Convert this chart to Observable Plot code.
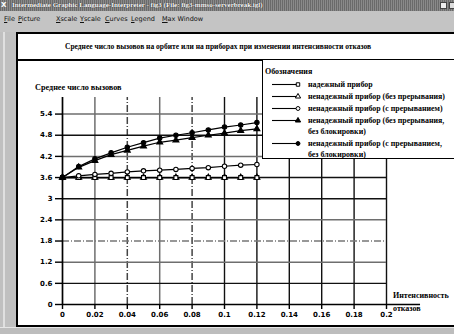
<!DOCTYPE html>
<html><head><meta charset="utf-8">
<script src="https://cdn.jsdelivr.net/npm/d3@7"></script>
<script src="https://cdn.jsdelivr.net/npm/@observablehq/plot@0.6"></script>
<style>
body{margin:0;width:454px;height:334px;overflow:hidden;background:#c0c0c0;position:relative;font-family:"Liberation Serif","DejaVu Serif",serif;}
.abs{position:absolute;white-space:nowrap;}
#tb{left:0;top:0;width:454px;height:11px;background:repeating-linear-gradient(90deg,#6a6a6a 0 1px,#8a8a8a 1px 2px);}
#tbtext{left:12px;top:0;font:bold 7px "Liberation Serif",serif;line-height:11px;color:#fff;text-shadow:0 0 1px #000;}
#tbx{left:1px;top:0;font:bold 7px "DejaVu Sans",sans-serif;line-height:11px;color:#fff;}
#tbbtn{left:440px;top:2px;width:5px;height:5px;background:#eee;border:1px solid #444;}
#tbbtn2{left:449px;top:2px;width:5px;height:5px;background:#ddd;border:1px solid #444;}
#menu{left:0;top:11px;width:454px;height:21px;background:#c4c4c4;}
.mi{top:15px;font:6.5px "DejaVu Sans",sans-serif;line-height:9px;color:#111;}
.mi u{text-decoration:underline;}
#lbev{left:3px;top:32px;width:2px;height:296px;background:#e0e0e0;}
#panel{left:16px;top:32px;width:450px;height:295px;background:#fff;border:2px solid #000;box-sizing:border-box;}
#tline{left:16px;top:59px;width:450px;height:2px;background:#000;}
#title{left:65px;top:41px;font:bold 7.5px "Liberation Serif",serif;line-height:12px;color:#000;}
#ylab{left:35px;top:82px;font:bold 8.2px "Liberation Serif",serif;line-height:12px;}
#xlab{left:393px;top:289px;font:bold 8px "Liberation Serif",serif;line-height:13px;}
#chart{left:18px;top:60px;}
#legend{left:262px;top:59px;width:200px;height:100px;border:1.5px solid #000;box-sizing:border-box;background:#fff;}
#lgh{position:absolute;left:2px;top:6px;font:bold 8px "Liberation Serif",serif;line-height:11px;}
.row{position:absolute;left:9px;display:flex;align-items:flex-start;font:bold 7.9px "Liberation Serif",serif;line-height:11px;}
.row svg{flex:none;margin-top:1px;}
#bot{left:0;top:327px;width:454px;height:7px;background:#bdbdbd;border-top:1px solid #e6e6e6;}
</style></head><body>
<div class="abs" id="tb"></div>
<div class="abs" id="tbx">X</div>
<div class="abs" id="tbtext">Intermediate Graphic Language-Interpreter - fig3 (File: fig3-mmso-serverbreak.igl)</div>
<div class="abs" id="tbbtn"></div>
<div class="abs" id="tbbtn2"></div>
<div class="abs" id="menu"></div>
<div class="abs" id="lbev"></div>
<div class="abs" id="panel"></div>
<div class="abs" id="tline"></div>
<div class="abs" id="title">Среднее число вызовов на орбите или на приборах при изменении интенсивности отказов</div>
<div class="abs" id="ylab">Среднее число вызовов</div>
<div class="abs" id="xlab">Интенсивность<br>отказов</div>
<div class="abs" id="chart"></div>
<div class="abs" id="legend"><div id="lgh">Обозначения</div></div>
<div class="abs" id="bot"></div>
<script>
// ---- data ----
const menuItems = ["File", "Picture", "Xscale", "Yscale", "Curves", "Legend", "Max Window"];
const failureRate = [0, 0.01, 0.02, 0.03, 0.04, 0.05, 0.06, 0.07, 0.08, 0.09, 0.10, 0.11, 0.12];
const seriesNames = [
  "надежный прибор",
  "ненадежный прибор (без прерывания)",
  "ненадежный прибор (с прерыванием)",
  "ненадежный прибор (без прерывания, без блокировки)",
  "ненадежный прибор (с прерыванием, без блокировки)"
];
const reliable        = [3.6, 3.6, 3.6, 3.6, 3.6, 3.6, 3.6, 3.6, 3.6, 3.6, 3.6, 3.6, 3.6];
const unrelNoInt      = [3.6, 3.6, 3.6, 3.6, 3.6, 3.6, 3.6, 3.6, 3.6, 3.6, 3.6, 3.6, 3.6];
const unrelInt        = [3.6, 3.65, 3.69, 3.72, 3.76, 3.79, 3.81, 3.83, 3.86, 3.88, 3.92, 3.95, 3.97];
const unrelNoIntNoBlk = [3.6, 3.89, 4.08, 4.25, 4.37, 4.49, 4.60, 4.66, 4.73, 4.80, 4.86, 4.93, 4.98];
const unrelIntNoBlk   = [3.6, 3.91, 4.13, 4.30, 4.46, 4.59, 4.72, 4.80, 4.87, 4.95, 5.03, 5.09, 5.16];
const xTickValues = [0, 0.02, 0.04, 0.06, 0.08, 0.1, 0.12, 0.14, 0.16, 0.18, 0.2];
const yTickValues = [0, 0.6, 1.2, 1.8, 2.4, 3, 3.6, 4.2, 4.8, 5.4];

// ---- styles ----
const seriesValues = [reliable, unrelNoInt, unrelInt, unrelNoIntNoBlk, unrelIntNoBlk];
const symbols = ["square", "triangle", "circle", "triangle", "circle"];
const fills = ["white", "white", "white", "black", "black"];
const drawOrder = [1, 0, 2, 3, 4];
const yMax = 5.87, xAxisEnd = 0.221;
const fmt = d => String(+(+d).toFixed(2));

// menu
const menuX = [4, 18, 56, 80, 105, 131, 162];
menuItems.forEach((m, i) => {
  const d = document.createElement("div");
  d.className = "abs mi";
  d.style.left = menuX[i] + "px";
  d.innerHTML = "<u>" + m[0] + "</u>" + m.slice(1);
  document.body.appendChild(d);
});

const rows = [];
drawOrder.forEach(i => failureRate.forEach((x, j) =>
  rows.push({x, y: seriesValues[i][j], s: seriesNames[i], sym: symbols[i], f: fills[i]})));

const gridXGrey = [0.02, 0.06];
const gridXDash = [0.04, 0.08];
const gridXBlack = [0.1, 0.12, 0.14, 0.16, 0.18, 0.2];
const gridYGrey = [1.2, 2.4, 4.2, 5.4];
const gridYDash = [1.8];
const gridYBlack = [0.6, 3, 3.6, 4.8];

const plot = Plot.plot({
  width: 436, height: 268,
  marginLeft: 44, marginRight: 68, marginTop: 37, marginBottom: 24,
  x: {domain: [0, 0.2]},
  y: {domain: [0, yMax]},
  style: {background: "transparent", fontFamily: "DejaVu Sans", fontWeight: "bold", fontSize: "7px", color: "#000", overflow: "visible"},
  marks: [
    Plot.ruleX(gridXGrey, {y1: 0, y2: yMax, stroke: "#6e6e6e", strokeWidth: 1.5}),
    Plot.ruleX(gridXDash, {y1: 0, y2: yMax, stroke: "#444", strokeWidth: 1.5, strokeDasharray: "7,2,1,2"}),
    Plot.ruleX(gridXBlack, {y1: 0, y2: yMax, stroke: "#111", strokeWidth: 1.4}),
    Plot.ruleY(gridYGrey, {x1: 0, x2: 0.2, stroke: "#6e6e6e", strokeWidth: 1.5}),
    Plot.ruleY(gridYDash, {x1: 0, x2: 0.2, stroke: "#777", strokeWidth: 1.5, strokeDasharray: "7,2,1,2"}),
    Plot.ruleY(gridYBlack, {x1: 0, x2: 0.2, stroke: "#111", strokeWidth: 1.4}),
    Plot.ruleX([0], {y1: 0, y2: yMax, stroke: "#000", strokeWidth: 1.7}),
    Plot.ruleY([0], {x1: 0, x2: xAxisEnd, stroke: "#000", strokeWidth: 1.7, clip: false}),
    Plot.axisX({ticks: xTickValues, tickFormat: fmt, tickSize: 5, tickPadding: 3, label: null, strokeWidth: 1.4}),
    Plot.axisY({ticks: yTickValues, tickFormat: fmt, tickSize: 7, tickPadding: 3, label: null, strokeWidth: 1.4}),
    Plot.line(rows, {x: "x", y: "y", z: "s", stroke: "#000", strokeWidth: 1.2}),
    Plot.dot(rows, {x: "x", y: "y", symbol: "sym", fill: "f", stroke: "#000", strokeWidth: 1.1, r: 2.2})
  ]
});
document.getElementById("chart").appendChild(plot);

// legend
const legend = document.getElementById("legend");
const rowTops = [19, 31, 43, 55, 78];
seriesNames.forEach((name, i) => {
  const r = document.createElement("div");
  r.className = "row";
  r.style.top = rowTops[i] + "px";
  const svg = d3.create("svg").attr("width", 36).attr("height", 9);
  svg.append("line").attr("x1", 0).attr("x2", 25).attr("y1", 4.5).attr("y2", 4.5).attr("stroke", "#000").attr("stroke-width", 1.1);
  svg.append("path").attr("transform", "translate(26,4.5)")
    .attr("d", d3.symbol(symbols[i] === "square" ? d3.symbolSquare : symbols[i] === "triangle" ? d3.symbolTriangle : d3.symbolCircle, 12)())
    .attr("fill", fills[i]).attr("stroke", "#000").attr("stroke-width", 1);
  r.appendChild(svg.node());
  const t = document.createElement("span");
  const cut = name.indexOf(", без блокировки");
  t.innerHTML = cut > 0 ? name.slice(0, cut + 1) + "<br>" + name.slice(cut + 2) : name;
  r.appendChild(t);
  legend.appendChild(r);
});
</script>
</body></html>
